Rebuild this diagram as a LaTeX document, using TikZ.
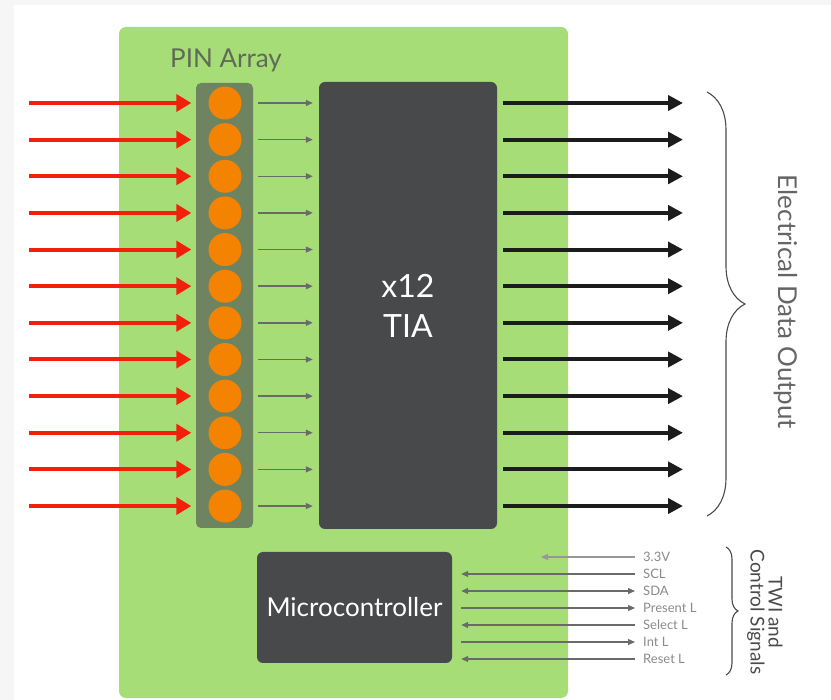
\documentclass[tikz,border=0pt]{standalone}
\usepackage{fontspec}
\setmainfont{Lato}
\usepackage{xcolor}
\usepackage{tikz}
\usetikzlibrary{calc, arrows.meta, positioning, decorations.pathreplacing}

\definecolor{boardgreen}{HTML}{A6DD76}
\definecolor{stripgreen}{HTML}{6E8461}
\definecolor{pinorange}{HTML}{F38300}
\definecolor{chipgray}{HTML}{48494B}
\definecolor{laserred}{HTML}{F2200A}
\definecolor{outblack}{HTML}{1C1C1C}
\definecolor{labelgray}{HTML}{5F6B58}
\definecolor{siggray}{HTML}{8A8A8A}
\definecolor{sigline}{HTML}{6A6A6A}
\definecolor{bracegray}{HTML}{4A4A4A}

\tikzset{
  pin/.style={circle, fill=pinorange, minimum size=33pt, inner sep=0pt},
  chip/.style={fill=chipgray, rounded corners=6pt, inner sep=0pt, text=white},
  inarrow/.style={laserred, line width=4pt, shorten >=17pt,
    -{Triangle[length=15pt,width=17pt]}},
  pinarrow/.style={sigline, line width=1.4pt, shorten <=16pt, shorten >=6pt,
    -{Triangle[length=7pt,width=6pt]}},
  outarrow/.style={outblack, line width=4pt, shorten <=6pt,
    -{Triangle[length=15pt,width=15pt]}},
  ctlline/.style={sigline, line width=1.1pt, shorten <=9pt, shorten >=8pt,
    >={Triangle[length=7pt,width=6pt]}},
  siglabel/.style={anchor=west, inner sep=0pt, text=siggray,
    font=\fontsize{13}{15}\selectfont},
  bracepen/.style={bracegray, line width=1.1pt, decorate}
}

\begin{document}
\begin{tikzpicture}[x=1pt, y=-1pt]
    \useasboundingbox (0,0) rectangle (831,700);
    % --- nền (dải xám ở mép)
    \fill[gray!7] (0,0) rectangle (14,700);
    \fill[gray!7] (0,0) rectangle (831,5);
    
    % --- Bo mạch xanh và dãy PIN
    \fill[boardgreen, rounded corners=7pt] (119,27) rectangle (568,698);
    \fill[stripgreen, rounded corners=5pt] (196,83) rectangle (253,528);
    \node[text=labelgray, font=\fontsize{26}{30}\selectfont] (pinlabel) at (226,60) {PIN Array};
    
    % --- Khối TIA và vi điều khiển
    \node[chip, minimum width=178pt, minimum height=447pt, align=center,
      font=\fontsize{32}{40}\selectfont] (tia) at (408,305.5) {x12\\TIA};
    \node[chip, minimum width=195pt, minimum height=111pt,
      font=\fontsize{26}{30}\selectfont] (mcu) at (354.5,607.5) {Microcontroller};
    
    % --- 12 kênh: tia sáng vào, PIN, ra điện
    \foreach \i in {1,...,12}{
      \pgfmathsetmacro\yy{103+36.64*(\i-1)}
      \node[pin] (pin\i) at (225,\yy) {};
      \coordinate (src\i) at (29,\yy);
      \coordinate (out\i) at (683,\yy);
      \draw[inarrow] (src\i) -- (pin\i.west);
      \draw[pinarrow] (pin\i.east) -- (tia.west |- pin\i);
      \draw[outarrow] (tia.east |- pin\i) -- (out\i);
    }
    
    % --- Dấu ngoặc và nhãn đầu ra
    \coordinate (dtop) at (707,92);
    \coordinate (dbot) at (707,516);
    \draw[bracepen, decoration={brace, amplitude=38pt}] (dtop) -- (dbot);
    \node[rotate=-90, text=bracegray!85, font=\fontsize{26}{30}\selectfont] (dataout) at (786,302) {Electrical Data Output};
    
    % --- Tín hiệu điều khiển
    \node[siglabel] (sig0) at (643,557) {3.3V};
    \node[siglabel] (sig1) at (643,574) {SCL};
    \node[siglabel] (sig2) at (643,591) {SDA};
    \node[siglabel] (sig3) at (643,608) {Present L};
    \node[siglabel] (sig4) at (643,625) {Select L};
    \node[siglabel] (sig5) at (643,642) {Int L};
    \node[siglabel] (sig6) at (643,659) {Reset L};
    
    \coordinate (vin) at (541,557);
    \draw[ctlline, sigline!70, shorten <=0pt, <-] (vin) -- (sig0.west);
    \draw[ctlline, <-] (mcu.east |- sig1.west) -- (sig1.west);
    \draw[ctlline, <->] (mcu.east |- sig2.west) -- (sig2.west);
    \draw[ctlline, ->] (mcu.east |- sig3.west) -- (sig3.west);
    \draw[ctlline, <-] (mcu.east |- sig4.west) -- (sig4.west);
    \draw[ctlline, ->] (mcu.east |- sig5.west) -- (sig5.west);
    \draw[ctlline, <-] (mcu.east |- sig6.west) -- (sig6.west);
    
    \coordinate (ctop) at (726,547);
    \coordinate (cbot) at (726,675);
    \draw[bracepen, decoration={brace, amplitude=12pt}] (ctop) -- (cbot);
    \node[rotate=-90, align=center, text=bracegray, font=\fontsize{19}{18}\selectfont] (twi) at (765,612) {TWI and\\Control Signals};
    
\end{tikzpicture}
\end{document}
